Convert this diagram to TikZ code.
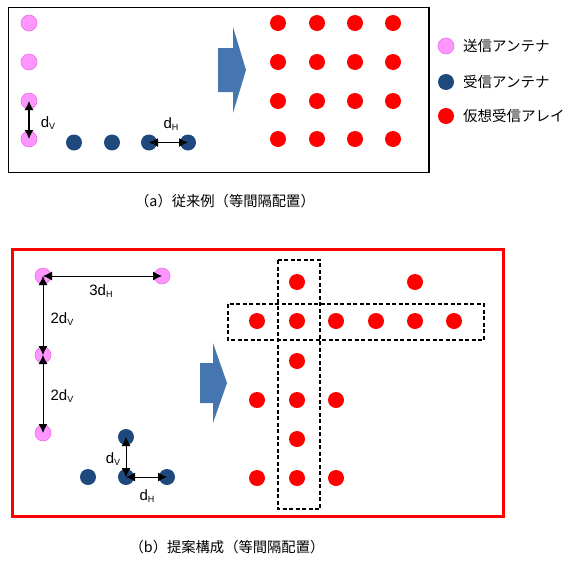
\documentclass[tikz,border=0pt]{standalone}
\usepackage{fontspec}
\setmainfont{Liberation Sans}
\newfontfamily\jp{Noto Sans CJK JP}
\usetikzlibrary{arrows.meta}
\definecolor{pinkfill}{RGB}{255,150,255}
\definecolor{pinkdraw}{RGB}{235,110,235}
\definecolor{rxblue}{RGB}{31,73,125}
\definecolor{arrblue}{RGB}{70,118,176}
\newcommand{\dsub}[2]{#1\raisebox{-2.5pt}{\fontsize{9}{10}\selectfont #2}}
\begin{document}
\begin{tikzpicture}[x=1pt,y=-1pt,
  tx/.style={circle,fill=pinkfill,draw=pinkdraw,line width=0.6pt,minimum size=16pt,inner sep=0pt},
  rx/.style={circle,fill=rxblue,minimum size=16pt,inner sep=0pt},
  va/.style={circle,fill=red,minimum size=16pt,inner sep=0pt},
  dim/.style={{Latex[length=9pt,width=9pt]}-{Latex[length=9pt,width=9pt]},line width=1.3pt},
  dimthin/.style={{Latex[length=9pt,width=9pt]}-{Latex[length=9pt,width=9pt]},line width=0.9pt},
  lbl/.style={font=\fontsize{15}{17}\selectfont,inner sep=0pt},
  jlbl/.style={font=\jp\fontsize{14.5}{16}\selectfont,inner sep=0pt,anchor=west},
  captxt/.style={font=\jp\fontsize{14.3}{16}\selectfont,inner sep=0pt},
  grp/.style={draw=black,line width=1.1pt,dash pattern=on 4pt off 2.5pt},
  blockarrow/.style={fill=arrblue}
]
\useasboundingbox (0,0) rectangle (573,560);
% ---------- (a) ----------
\draw[line width=1.3pt] (8.5,7.5) rectangle (429,172.5);
\node[tx] (a1) at (29,23) {};
\node[tx] (a2) at (29,62) {};
\node[tx] (a3) at (29,101) {};
\node[tx] (a4) at (29,139) {};
\node[rx] (b1) at (74,142.5) {};
\node[rx] (b2) at (112,142.5) {};
\node[rx] (b3) at (149,142.5) {};
\node[rx] (b4) at (188,142.5) {};
\draw[dim] (a3.center) -- (a4.center);
\draw[dim] (b3.center) -- (b4.center);
\node[lbl] (dva) at (48,123) {\dsub{d}{V}};
\node[lbl] (dha) at (171,124) {\dsub{d}{H}};
\fill[blockarrow] (218,48) -- (233,48) -- (233,27) -- (246,70) -- (233,113) -- (233,92) -- (218,92) -- cycle;
\foreach \i/\x in {1/278,2/317,3/355,4/393}{
  \foreach \j/\y in {1/23,2/62,3/101,4/139}{
    \node[va] (g\i\j) at (\x,\y) {};
  }
}
% legend
\node[tx] (lg1) at (446,46) {};
\node[rx] (lg2) at (446,82) {};
\node[va] (lg3) at (446,116) {};
\node[jlbl] (lt1) at (463,46) {送信アンテナ};
\node[jlbl] (lt2) at (463,82) {受信アンテナ};
\node[jlbl] (lt3) at (463,116) {仮想受信アレイ};
\node[captxt] (capa) at (225,201) {（a）従来例（等間隔配置）};
% ---------- (b) ----------
\draw[red,line width=3pt] (12,249) rectangle (503,516);
\node[tx] (p1) at (43,276) {};
\node[tx] (p2) at (162,276) {};
\node[tx] (p3) at (43,355) {};
\node[tx] (p4) at (43,433) {};
\node[rx] (q1) at (126,437) {};
\node[rx] (q2) at (126,477) {};
\node[rx] (q3) at (88,477) {};
\node[rx] (q4) at (167,477) {};
\draw[dimthin] (p1.center) -- (p2.center);
\draw[dimthin] (p1.center) -- (p3.center);
\draw[dimthin] (p3.center) -- (p4.center);
\draw[dimthin] (q1.center) -- (q2.center);
\draw[dimthin] (q2.center) -- (q4.center);
\node[lbl] (l3dh) at (101,291) {3\dsub{d}{H}};
\node[lbl] (l2dv1) at (62,319) {2\dsub{d}{V}};
\node[lbl] (l2dv2) at (62,396) {2\dsub{d}{V}};
\node[lbl] (ldvb) at (113,459) {\dsub{d}{V}};
\node[lbl] (ldhb) at (147,496) {\dsub{d}{H}};
\fill[blockarrow] (200,363) -- (213,363) -- (213,343) -- (227,383) -- (213,423) -- (213,403) -- (200,403) -- cycle;
\draw[grp] (278,260) rectangle (320,509);
\draw[grp] (228,304) rectangle (484,340);
\node[va] (v1) at (297,282) {};
\node[va] (v2) at (415,282) {};
\node[va] (v3) at (257,321) {};
\node[va] (v4) at (297,321) {};
\node[va] (v5) at (336,321) {};
\node[va] (v6) at (376,321) {};
\node[va] (v7) at (415,321) {};
\node[va] (v8) at (454,321) {};
\node[va] (v9) at (297,361) {};
\node[va] (v10) at (257,400) {};
\node[va] (v11) at (297,400) {};
\node[va] (v12) at (336,400) {};
\node[va] (v13) at (297,439) {};
\node[va] (v14) at (257,478) {};
\node[va] (v15) at (297,478) {};
\node[va] (v16) at (336,478) {};
\node[captxt] (capb) at (227,547) {（b）提案構成（等間隔配置）};
\end{tikzpicture}
\end{document}
